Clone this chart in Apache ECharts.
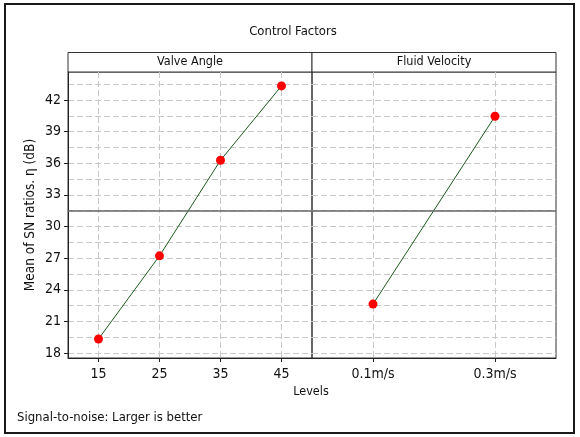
<!DOCTYPE html>
<html>
<head>
<meta charset="utf-8">
<script src="https://cdn.jsdelivr.net/npm/echarts@6/dist/echarts.min.js"></script>
<style>
  html, body { margin: 0; padding: 0; background: #fff; }
  #chart { width: 580px; height: 437px; }
</style>
</head>
<body>
<div id="chart"></div>
<script>
// ── Data ────────────────────────────────────────────────────────────────────
const VALVE_LEVELS    = ['15', '25', '35', '45'];
const VALVE_SN        = [19.33, 27.22, 36.28, 43.33];
const VELOCITY_LEVELS = ['0.1m/s', '0.3m/s'];
const VELOCITY_SN     = [22.64, 40.45];
const OVERALL_MEAN    = 31.45;

const Y_MIN = 17.53;
const Y_MAX = 44.65;

const FONT = "'DejaVu Sans Condensed', 'Liberation Sans', sans-serif";
const GRID_DASH = { color: '#c8c8c8', type: [6, 3], width: 1 };

const chart = echarts.init(document.getElementById('chart'), null, { renderer: 'canvas' });

function yAxis(gridIndex, showLabels) {
  return {
    type: 'value',
    gridIndex,
    min: Y_MIN,
    max: Y_MAX,
    splitNumber: 8,
    minInterval: 3,
    maxInterval: 3,
    name: showLabels ? 'Mean of SN ratios. η (dB)' : '',
    nameLocation: 'middle',
    nameGap: 31,
    nameTextStyle: { fontFamily: FONT, fontSize: 13.5, color: '#111' },
    axisLine: { show: showLabels, lineStyle: { color: '#222' } },
    axisTick: { show: showLabels, length: 4, lineStyle: { color: '#222' } },
    axisLabel: {
      show: showLabels,
      showMinLabel: false,
      showMaxLabel: false,
      margin: 7,
      fontFamily: FONT, fontSize: 14, color: '#111',
    },
    splitLine: { show: true, showMinLine: false, showMaxLine: false, lineStyle: GRID_DASH },
    minorTick: { show: false, splitNumber: 2 },
    minorSplitLine: { show: true, lineStyle: GRID_DASH },
  };
}

function xAxis(gridIndex, data) {
  return {
    type: 'category',
    gridIndex,
    data,
    boundaryGap: true,
    axisLine: { show: true, lineStyle: { color: '#222' } },
    axisTick: { show: true, alignWithLabel: true, length: 4, lineStyle: { color: '#222' } },
    axisLabel: { margin: 9, fontFamily: FONT, fontSize: 14, color: '#111' },
    splitLine: { show: true, alignWithLabel: true, lineStyle: GRID_DASH },
  };
}

function meanLine() {
  return {
    silent: true,
    symbol: 'none',
    label: { show: false },
    lineStyle: { color: '#666', type: 'solid', width: 1.5 },
    data: [{ yAxis: OVERALL_MEAN }],
  };
}

const lineSeries = (xi, data) => ({
  type: 'line',
  xAxisIndex: xi,
  yAxisIndex: xi,
  data,
  symbol: 'circle',
  symbolSize: 9,
  lineStyle: { color: '#1e5a1e', width: 1 },
  itemStyle: { color: '#ff0000' },
  animation: false,
  markLine: meanLine(),
});

const text = (x, y, str, size, align = 'center') => ({
  type: 'text', x, y, silent: true,
  style: { text: str, align, verticalAlign: 'middle', font: `${size}px ${FONT}`, fill: '#111' },
});

chart.setOption({
  backgroundColor: '#fff',
  animation: false,
  grid: [
    { left: 68, top: 72, width: 244, height: 286, show: true, borderColor: '#333', borderWidth: 1 },
    { left: 312, top: 72, width: 244, height: 286, show: true, borderColor: '#333', borderWidth: 1 },
  ],
  xAxis: [xAxis(0, VALVE_LEVELS), xAxis(1, VELOCITY_LEVELS)],
  yAxis: [yAxis(0, true), yAxis(1, false)],
  series: [
    lineSeries(0, VALVE_SN),
    lineSeries(1, VELOCITY_SN),
  ],
  graphic: [
    { type: 'rect', shape: { x: 5, y: 4, width: 569, height: 429 },
      style: { fill: 'none', stroke: '#1a1a1a', lineWidth: 2 }, silent: true },
    { type: 'rect', shape: { x: 68, y: 52.5, width: 244, height: 19.5 },
      style: { fill: '#fff', stroke: '#333', lineWidth: 1 }, silent: true },
    { type: 'rect', shape: { x: 312, y: 52.5, width: 244, height: 19.5 },
      style: { fill: '#fff', stroke: '#333', lineWidth: 1 }, silent: true },
    text(190, 62, 'Valve Angle', 12.5),
    text(434, 62, 'Fluid Velocity', 12.5),
    text(293, 32, 'Control Factors', 13),
    text(311, 392, 'Levels', 12.5),
    text(17, 418, 'Signal-to-noise: Larger is better', 13, 'left'),
  ],
});
</script>
</body>
</html>
